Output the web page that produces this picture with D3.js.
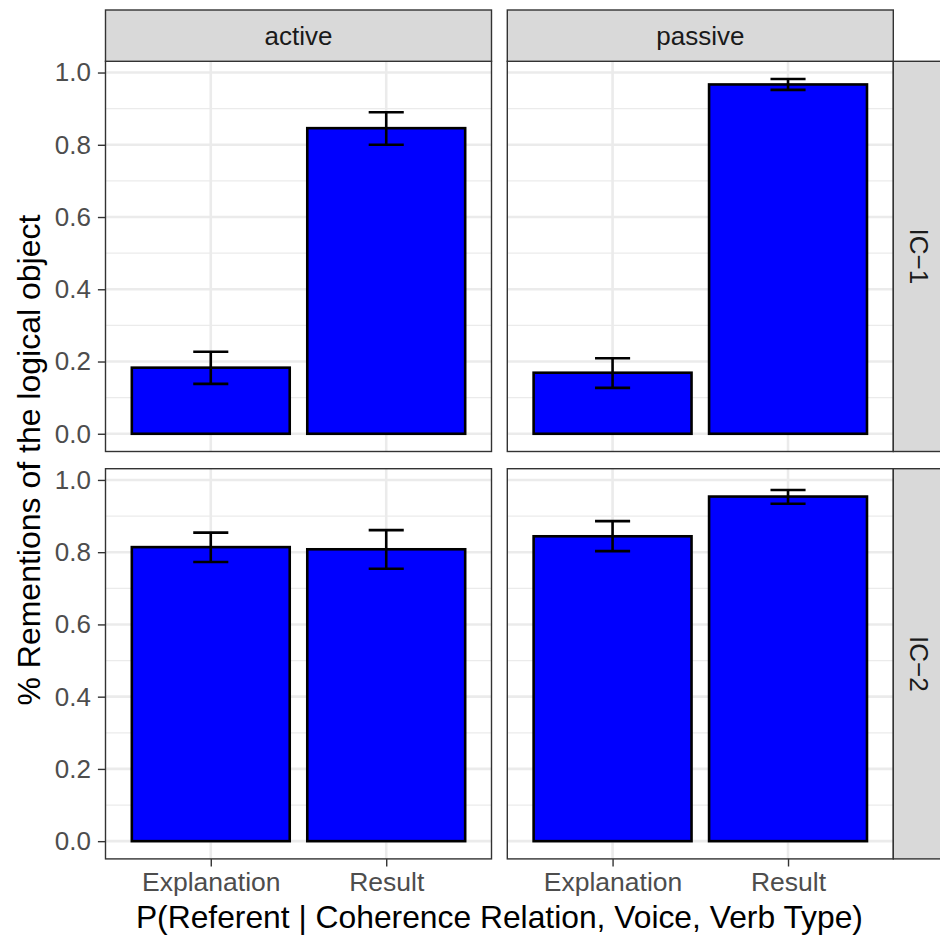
<!DOCTYPE html>
<html>
<head>
<meta charset="utf-8">
<script src="https://cdn.jsdelivr.net/npm/d3@7/dist/d3.min.js"></script>
<style>
  html, body { margin: 0; padding: 0; background: #ffffff; }
  svg { display: block; }
  text { font-family: "Liberation Sans", Arial, Helvetica, sans-serif; }
</style>
</head>
<body>
<svg id="chart" width="940" height="936"></svg>
<script>
// Facet levels
const voices = ["active", "passive"];          // columns
const verbTypes = ["IC\u22121", "IC\u22122"];   // rows
const relations = ["Explanation", "Result"];   // x categories

// Proportion of rementions, indexed [verbType][voice][relation]
const meanValues = [
  [[0.183, 0.846], [0.169, 0.967]],
  [[0.814, 0.808], [0.844, 0.954]]
];
const lowerValues = [
  [[0.138, 0.800], [0.127, 0.952]],
  [[0.773, 0.754], [0.803, 0.934]]
];
const upperValues = [
  [[0.227, 0.890], [0.209, 0.982]],
  [[0.854, 0.861], [0.886, 0.972]]
];
const yTicks = [0, 0.2, 0.4, 0.6, 0.8, 1.0];
const yMinorTicks = [0.1, 0.3, 0.5, 0.7, 0.9];

const xTitle = "P(Referent | Coherence Relation, Voice, Verb Type)";
const yTitle = "% Rementions of the logical object";

// Layout
const colX = [105.5, 507.3];
const rowY = [61.3, 468.7];
const panelW = 386;
const panelH = 390.2;
const stripTop = 10;
const stripW = 51.3;

const svg = d3.select("#chart");

// Shared y scale with 5% expansion over the data range
const allUpper = upperValues.flat(2);
const yMaxData = d3.max(allUpper);
const yPad = 0.05 * yMaxData;
const y = d3.scaleLinear().domain([-yPad, yMaxData + yPad]).range([panelH, 0]);

// Discrete x with 0.6 unit padding on each side
const xPos = d3.scaleLinear().domain([0.4, relations.length + 0.6]).range([0, panelW]);
const barHalf = 0.45, capHalf = 0.1;

const gridMajor = "#ebebeb", gridMinor = "#ebebeb", frame = "#333333";

verbTypes.forEach((vt, ri) => {
  voices.forEach((vc, ci) => {
    const g = svg.append("g").attr("transform", `translate(${colX[ci]},${rowY[ri]})`);

    g.append("rect").attr("width", panelW).attr("height", panelH).attr("fill", "#ffffff");

    // grid
    g.selectAll(".minor").data(yMinorTicks).join("line")
      .attr("x1", 0).attr("x2", panelW)
      .attr("y1", d => y(d)).attr("y2", d => y(d))
      .attr("stroke", gridMinor).attr("stroke-width", 1.3);
    g.selectAll(".major").data(yTicks).join("line")
      .attr("x1", 0).attr("x2", panelW)
      .attr("y1", d => y(d)).attr("y2", d => y(d))
      .attr("stroke", gridMajor).attr("stroke-width", 2.6);
    g.selectAll(".vmajor").data(relations).join("line")
      .attr("x1", (d, i) => xPos(i + 1)).attr("x2", (d, i) => xPos(i + 1))
      .attr("y1", 0).attr("y2", panelH)
      .attr("stroke", gridMajor).attr("stroke-width", 2.6);

    // bars
    const means = meanValues[ri][ci];
    g.selectAll(".bar").data(means).join("rect")
      .attr("x", (d, i) => xPos(i + 1 - barHalf))
      .attr("width", xPos(1 + barHalf) - xPos(1 - barHalf))
      .attr("y", d => y(d))
      .attr("height", d => y(0) - y(d))
      .attr("fill", "#0000ff")
      .attr("stroke", "#000000").attr("stroke-width", 2.6);

    // error bars
    const lo = lowerValues[ri][ci], hi = upperValues[ri][ci];
    relations.forEach((r, i) => {
      const eb = g.append("g").attr("stroke", "#000000").attr("stroke-width", 2.6).attr("fill", "none");
      eb.append("line").attr("x1", xPos(i + 1)).attr("x2", xPos(i + 1))
        .attr("y1", y(lo[i])).attr("y2", y(hi[i]));
      eb.append("line").attr("x1", xPos(i + 1 - capHalf)).attr("x2", xPos(i + 1 + capHalf))
        .attr("y1", y(hi[i])).attr("y2", y(hi[i]));
      eb.append("line").attr("x1", xPos(i + 1 - capHalf)).attr("x2", xPos(i + 1 + capHalf))
        .attr("y1", y(lo[i])).attr("y2", y(lo[i]));
    });

    // panel border
    g.append("rect").attr("width", panelW).attr("height", panelH)
      .attr("fill", "none").attr("stroke", frame).attr("stroke-width", 1.4);

    // y axis on first column
    if (ci === 0) {
      const ax = g.append("g").call(
        d3.axisLeft(y).tickValues(yTicks).tickFormat(d3.format(".1f")).tickSize(7.6).tickPadding(7)
      );
      ax.select(".domain").remove();
      ax.selectAll(".tick line").attr("stroke", frame).attr("stroke-width", 1.4);
      ax.selectAll(".tick text").attr("fill", "#4d4d4d").attr("font-size", 26);
    }

    // x axis on bottom row
    if (ri === verbTypes.length - 1) {
      const xBand = d3.scalePoint().domain(relations)
        .range([xPos(1), xPos(relations.length)]);
      const ax = g.append("g").attr("transform", `translate(0,${panelH})`).call(
        d3.axisBottom(xBand).tickSize(7.6).tickPadding(6)
      );
      ax.select(".domain").remove();
      ax.selectAll(".tick line").attr("stroke", frame).attr("stroke-width", 1.4);
      ax.selectAll(".tick text").attr("fill", "#4d4d4d").attr("font-size", 26.5);
    }
  });
});

// top strips
voices.forEach((vc, ci) => {
  const s = svg.append("g").attr("transform", `translate(${colX[ci]},${stripTop})`);
  const h = rowY[0] - stripTop;
  s.append("rect").attr("width", panelW).attr("height", h)
    .attr("fill", "#d9d9d9").attr("stroke", frame).attr("stroke-width", 1.4);
  s.append("text").attr("x", panelW / 2).attr("y", h / 2)
    .attr("text-anchor", "middle").attr("dominant-baseline", "central")
    .attr("fill", "#1a1a1a").attr("font-size", 26).text(vc);
});

// right strips
verbTypes.forEach((vt, ri) => {
  const sx = colX[voices.length - 1] + panelW;
  const s = svg.append("g").attr("transform", `translate(${sx},${rowY[ri]})`);
  s.append("rect").attr("width", stripW).attr("height", panelH)
    .attr("fill", "#d9d9d9").attr("stroke", frame).attr("stroke-width", 1.4);
  s.append("text")
    .attr("transform", `translate(${stripW / 2},${panelH / 2}) rotate(90)`)
    .attr("text-anchor", "middle").attr("dominant-baseline", "central")
    .attr("fill", "#1a1a1a").attr("font-size", 26).text(vt);
});

// axis titles
const plotLeft = colX[0], plotRight = colX[voices.length - 1] + panelW;
svg.append("text")
  .attr("x", (plotLeft + plotRight) / 2).attr("y", 928.3)
  .attr("text-anchor", "middle").attr("fill", "#000000").attr("font-size", 31.8)
  .text(xTitle);
svg.append("text")
  .attr("transform", `translate(40,${(rowY[0] + rowY[1] + panelH) / 2}) rotate(-90)`)
  .attr("text-anchor", "middle").attr("fill", "#000000").attr("font-size", 32)
  .text(yTitle);
</script>
</body>
</html>
